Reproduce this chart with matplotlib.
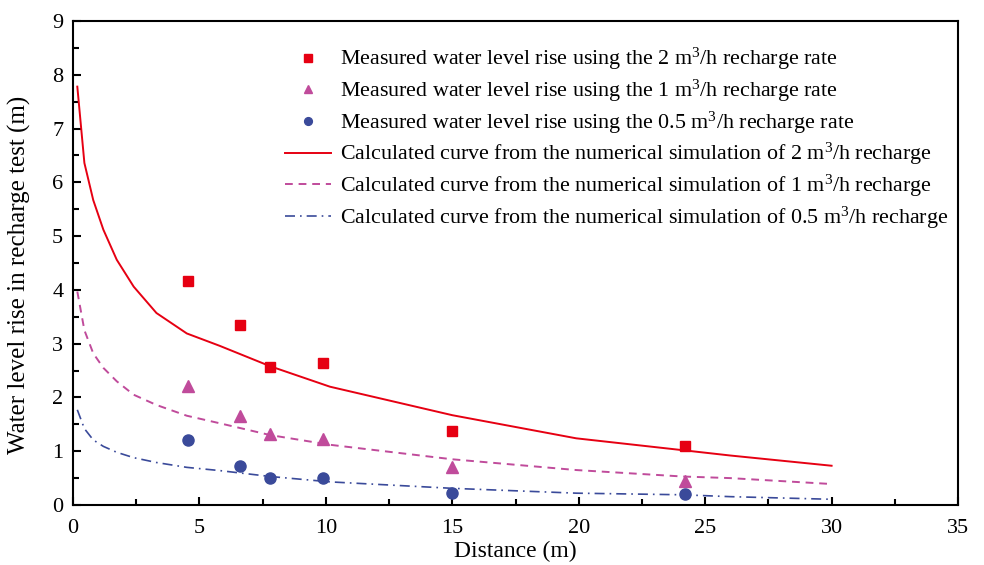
import numpy as np
import matplotlib
matplotlib.use('Agg')
import matplotlib.pyplot as plt

plt.rcParams['font.family'] = ['Liberation Serif', 'DejaVu Serif']
plt.rcParams['mathtext.fontset'] = 'custom'
plt.rcParams['mathtext.rm'] = 'Liberation Serif'
plt.rcParams['mathtext.it'] = 'Liberation Serif:italic'

# measured points
dist = [4.55, 6.6, 7.8, 9.9, 15.0, 24.2]
meas_2 = [4.17, 3.35, 2.56, 2.64, 1.37, 1.10]
meas_1 = [2.22, 1.65, 1.32, 1.22, 0.70, 0.44]
meas_05 = [1.21, 0.72, 0.50, 0.50, 0.23, 0.21]

# simulated curves
sim_x = [0.17, 0.45, 0.8, 1.2, 1.73, 2.4, 3.3, 4.5, 5.8, 7.8, 10.16, 15.0, 19.9, 24.1, 26.0, 30.0]
sim_2 = [7.78, 6.36, 5.67, 5.12, 4.56, 4.06, 3.57, 3.19, 2.96, 2.58, 2.20, 1.67, 1.24, 1.02, 0.92, 0.73]
sim_1 = [3.97, 3.25, 2.82, 2.55, 2.30, 2.05, 1.86, 1.66, 1.52, 1.30, 1.12, 0.85, 0.65, 0.53, 0.50, 0.39]
sim_05 = [1.77, 1.42, 1.21, 1.09, 0.98, 0.88, 0.79, 0.70, 0.64, 0.53, 0.43, 0.31, 0.22, 0.19, 0.155, 0.106]

red = '#E60012'
pink = '#C04B9B'
blue = '#3A4A9A'

fig = plt.figure(figsize=(9.84, 5.65), dpi=100)
ax = fig.add_axes([0.0742, 0.1062, 0.8994, 0.8566])

ax.plot(dist, meas_2, 's', color=red, ms=7.5, ls='none',
        label=r'Measured water level rise using the 2 m$^3$/h recharge rate')
ax.plot(dist, meas_1, '^', color=pink, ms=9, ls='none',
        label=r'Measured water level rise using the 1 m$^3$/h recharge rate')
ax.plot(dist, meas_05, 'o', color=blue, ms=8, ls='none',
        label=r'Measured water level rise using the 0.5 m$^3$/h recharge rate')
ax.plot(sim_x, sim_2, '-', color=red, lw=1.4,
        label=r'Calculated curve from the numerical simulation of 2 m$^3$/h recharge')
ax.plot(sim_x, sim_1, '--', color=pink, lw=1.4, dashes=(4, 3),
        label=r'Calculated curve from the numerical simulation of 1 m$^3$/h recharge')
ax.plot(sim_x, sim_05, '-.', color=blue, lw=1.2, dashes=(6, 3, 1, 3),
        label=r'Calculated curve from the numerical simulation of 0.5 m$^3$/h recharge')

ax.set_xlim(0, 35)
ax.set_ylim(0, 9)
ax.set_xticks(np.arange(0, 36, 5))
ax.set_yticks(np.arange(0, 10, 1))
ax.set_xticks(np.arange(2.5, 35, 5), minor=True)
ax.set_yticks(np.arange(0.5, 9, 1), minor=True)
ax.tick_params(which='both', direction='in', labelsize=16, width=1.5)
ax.tick_params(which='major', length=6)
ax.tick_params(which='minor', length=4)
ax.tick_params(axis='x', which='major', pad=10)
ax.tick_params(axis='y', which='major', pad=7)
for s in ax.spines.values():
    s.set_linewidth(1.5)

ax.set_xlabel('Distance (m)', fontsize=17, labelpad=2)
ax.set_ylabel('Water level rise in recharge test (m)', fontsize=18)
ax.yaxis.set_label_coords(-0.047, 0.475)

ax.legend(loc='upper left', bbox_to_anchor=(0.24, 0.948), frameon=False,
          fontsize=15.8, handlelength=2.1, labelspacing=0.25, markerscale=0.7,
          handletextpad=0.37, borderaxespad=0, borderpad=0)

fig.savefig('out.png', dpi=100)
